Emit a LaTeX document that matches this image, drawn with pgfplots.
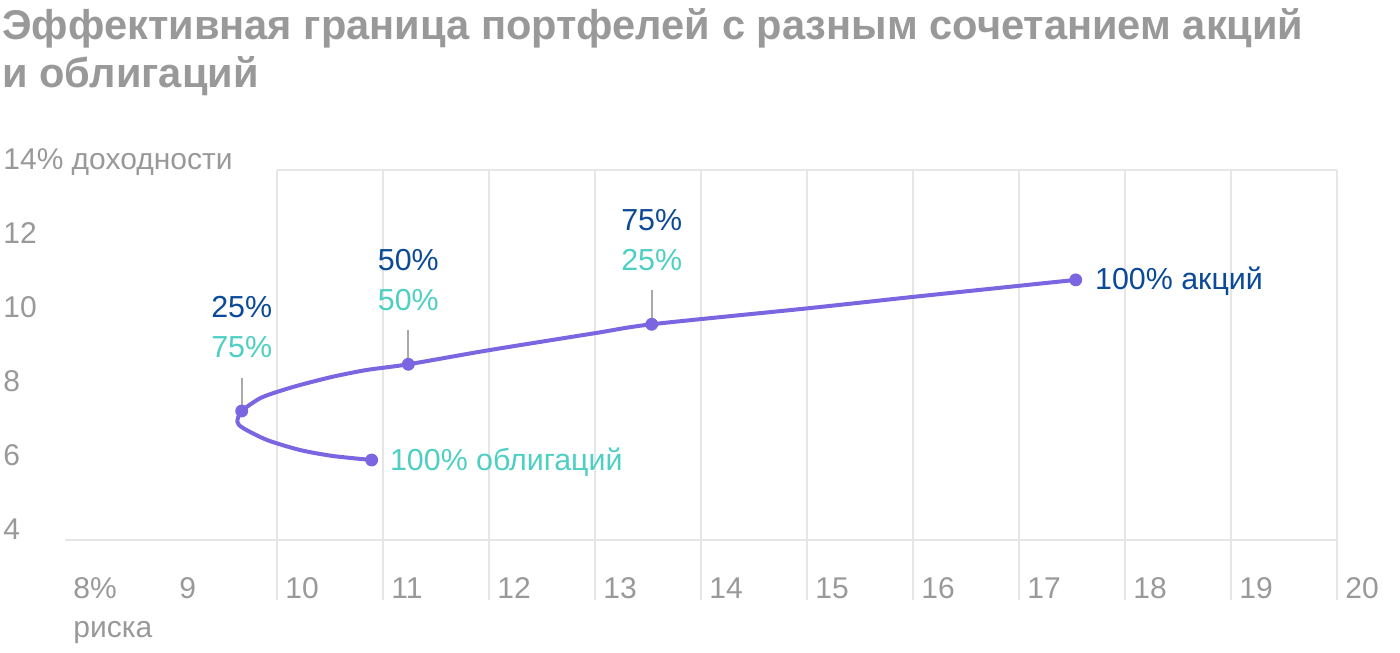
\documentclass[border=0pt]{standalone}
\usepackage{pgfplots}
\pgfplotsset{compat=1.18}
\usepackage{fontspec}
\setmainfont{Liberation Sans}
\definecolor{lineC}{HTML}{7B65E0}
\definecolor{dblue}{HTML}{0B4A98}
\definecolor{teal2}{HTML}{4ECFC3}
\definecolor{txtgray}{HTML}{999999}
\definecolor{gridc}{HTML}{E6E6E6}
\definecolor{leadc}{HTML}{AAAAAA}
\begin{document}
\begin{tikzpicture}
\useasboundingbox (0,0) rectangle (700pt,326pt);
\node[anchor=base west, inner sep=0pt, text=txtgray, font=\fontsize{20.8}{24}\selectfont\bfseries] at (1pt,306pt) {Эффективная граница портфелей с разным сочетанием акций};
\node[anchor=base west, inner sep=0pt, text=txtgray, font=\fontsize{20.8}{24}\selectfont\bfseries] at (1pt,282pt) {и облигаций};
\begin{axis}[
  at={(32.5pt,26pt)}, anchor=south west,
  scale only axis, width=636pt, height=215pt,
  xmin=8, xmax=20, ymin=2.3784, ymax=14,
  axis line style={draw=none}, major tick length=0pt,
  xtick={8,...,20}, xticklabels={8\%,9,10,11,12,13,14,15,16,17,18,19,20},
  ytick={4,6,8,10,12,14}, yticklabels={4,6,8,10,12,14\% доходности},
  /pgf/number format/assume math mode=true,
  tick label style={font=\fontsize{15}{17}\selectfont, text=txtgray, inner sep=0pt},
  xticklabel style={anchor=base west, xshift=4pt, yshift=0.5pt},
  yticklabel style={anchor=base west, xshift=-31pt},
  clip=false,
]
\pgfplotsinvokeforeach{10,...,20}{\draw[gridc, line width=1pt] (axis cs:#1,2.3784) -- (axis cs:#1,14);}
\draw[gridc, line width=1pt] (axis cs:8,4) -- (axis cs:20,4);
\draw[gridc, line width=1pt] (axis cs:10,14) -- (axis cs:20,14);
% leader lines
\draw[leadc, line width=1pt] (axis cs:9.667,7.486) -- ([yshift=16.5pt]axis cs:9.667,7.486);
\draw[leadc, line width=1pt] (axis cs:11.239,8.749) -- ([yshift=17pt]axis cs:11.239,8.749);
\draw[leadc, line width=1pt] (axis cs:13.535,9.830) -- ([yshift=17pt]axis cs:13.535,9.830);
\addplot[lineC, line width=2pt, smooth, tension=0.45] coordinates {
(10.893,6.162) (10.528,6.270) (10.217,6.432) (9.906,6.703) (9.679,7.027) (9.626,7.197) (9.667,7.486)
(9.840,7.830) (10.007,8.008) (10.217,8.189) (10.528,8.414) (10.846,8.595) (11.239,8.749)
(12.0,9.13) (13.0,9.59) (13.535,9.830) (15,10.26) (16,10.57) (17,10.87) (17.535,11.03)
};
\addplot[only marks, mark=*, mark size=3pt, lineC] coordinates {
(10.893,6.162) (9.667,7.486) (11.239,8.749) (13.535,9.830) (17.535,11.03)
};
\begin{scope}[every node/.style={inner sep=0pt, font=\fontsize{15.2}{17}\selectfont}]
\node[anchor=base, text=dblue, yshift=47pt] at (axis cs:9.667,7.486) {25\%};
\node[anchor=base, text=teal2, yshift=27pt] at (axis cs:9.667,7.486) {75\%};
\node[anchor=base, text=dblue, yshift=47pt] at (axis cs:11.239,8.749) {50\%};
\node[anchor=base, text=teal2, yshift=27pt] at (axis cs:11.239,8.749) {50\%};
\node[anchor=base, text=dblue, yshift=47pt] at (axis cs:13.535,9.830) {75\%};
\node[anchor=base, text=teal2, yshift=27pt] at (axis cs:13.535,9.830) {25\%};
\node[anchor=base west, text=dblue, xshift=9.5pt, yshift=-5pt] at (axis cs:17.535,11.03) {100\% акций};
\node[anchor=base west, text=teal2, xshift=9pt, yshift=-5pt] at (axis cs:10.893,6.162) {100\% облигаций};
\node[anchor=base west, text=txtgray, font=\fontsize{15}{17}\selectfont, xshift=4pt, yshift=-18.5pt] at (axis cs:8,2.3784) {риска};
\end{scope}
\end{axis}
\end{tikzpicture}
\end{document}
